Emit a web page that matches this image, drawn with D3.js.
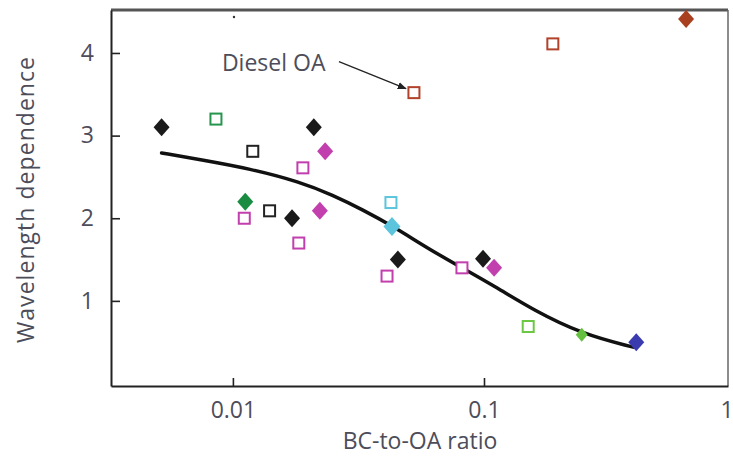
<!DOCTYPE html>
<html>
<head>
<meta charset="utf-8">
<script src="https://cdn.jsdelivr.net/npm/d3@7"></script>
<style>
  body { margin: 0; background: #fff; }
  text { font-family: "Open Sans", sans-serif; fill: #4d4d5a; }
</style>
</head>
<body>
<script>
// BC-to-OA ratio vs wavelength dependence (absorption Angstrom exponent)

var xTicks = [0.01, 0.1, 1];
var xTickLabels = ["0.01", "0.1", "1"];
var yTicks = [1, 2, 3, 4];

// filled diamonds
var blackDiamonds = [[0.0052, 3.1], [0.021, 3.1], [0.0172, 2.0], [0.0454, 1.5], [0.0991, 1.51]];
var magentaDiamonds = [[0.0233, 2.81], [0.0222, 2.09], [0.1097, 1.4]];
var darkGreenDiamonds = [[0.0112, 2.2]];
var cyanDiamonds = [[0.043, 1.9]];
var brownDiamonds = [[0.638, 4.41]];
var lightGreenDiamonds = [[0.245, 0.59]];
var blueDiamonds = [[0.404, 0.5]];

// open squares
var greenSquares = [[0.00856, 3.2]];
var blackSquares = [[0.012, 2.81], [0.014, 2.09]];
var magentaSquares = [[0.019, 2.61], [0.0111, 2.0], [0.0183, 1.7], [0.0411, 1.3], [0.0817, 1.4]];
var cyanSquares = [[0.0426, 2.19]];
var brownSquares = [[0.0526, 3.52], [0.188, 4.11]];
var lightGreenSquares = [[0.15, 0.69]];

// fitted curve
var fitCurve = [
  [0.0052, 2.79], [0.0074, 2.71], [0.0117, 2.6], [0.0185, 2.44], [0.025, 2.28],
  [0.033, 2.1], [0.043, 1.91], [0.0609, 1.62], [0.0817, 1.4],
  [0.1127, 1.16], [0.157, 0.89], [0.245, 0.6], [0.393, 0.44]
];

var diesel = [0.0526, 3.52];

var W = 733, H = 458;
var margin = {left: 111, right: 5, top: 10, bottom: 72};
var width = W - margin.left - margin.right,
    height = H - margin.top - margin.bottom;

var svg = d3.select("body").append("svg")
  .attr("width", W)
  .attr("height", H);

var g = svg.append("g")
  .attr("transform", "translate(" + margin.left + "," + margin.top + ")");

var x = d3.scaleLog().domain([0.00327, 0.937]).range([0, width]);
var y = d3.scaleLinear().domain([-0.03, 4.52]).range([height, 0]);

// frame: top and right in grey, left and bottom black
g.append("line").attr("x1", 0).attr("x2", width).attr("y1", 0).attr("y2", 0)
  .attr("stroke", "#555").attr("stroke-width", 3);
g.append("line").attr("x1", width).attr("x2", width).attr("y1", 0).attr("y2", height)
  .attr("stroke", "#666").attr("stroke-width", 1.5);

var xAxis = d3.axisBottom(x).tickValues(xTicks)
  .tickFormat((d, i) => xTickLabels[i])
  .tickSizeInner(-8).tickSizeOuter(0).tickPadding(16);
var yAxis = d3.axisLeft(y).tickValues(yTicks)
  .tickFormat(d3.format("d"))
  .tickSizeInner(-9).tickSizeOuter(0).tickPadding(17);

var gx = g.append("g").attr("transform", "translate(0," + height + ")").call(xAxis);
var gy = g.append("g").call(yAxis);

[gx, gy].forEach(a => {
  a.select(".domain").attr("stroke", "#222").attr("stroke-width", 2);
  a.selectAll(".tick line").attr("stroke", "#222").attr("stroke-width", 1.6);
  a.selectAll(".tick text")
    .style("font-family", "'Open Sans', sans-serif")
    .style("font-size", "23px")
    .attr("fill", "#4d4d5a");
});
gx.selectAll(".tick text").attr("dy", "0.71em");
// the "1" sits at the very right edge of the picture
gx.selectAll(".tick text").filter(d => d === 1)
  .attr("text-anchor", "end")
  .attr("x", -2);

// axis titles
svg.append("text")
  .attr("x", margin.left + x(0.1) - 64)
  .attr("y", 449)
  .attr("text-anchor", "middle")
  .style("font-size", "23px")
  .text("BC-to-OA ratio");

svg.append("text")
  .attr("transform", "translate(34,200) rotate(-90)")
  .attr("text-anchor", "middle")
  .attr("textLength", 286)
  .attr("lengthAdjust", "spacing")
  .style("font-size", "23px")
  .text("Wavelength dependence");

// stray speck near the top
g.append("circle").attr("cx", x(0.0101)).attr("cy", 7).attr("r", 1.2).attr("fill", "#333");

// fitted line
var line = d3.line()
  .x(d => x(d[0]))
  .y(d => y(d[1]))
  .curve(d3.curveBasis);

g.append("path")
  .datum(fitCurve)
  .attr("d", line)
  .attr("fill", "none")
  .attr("stroke", "#111")
  .attr("stroke-width", 3.5)
  .attr("stroke-linecap", "round");

// series tables
var squareSeries = [
  {data: greenSquares, color: "#25964c"},
  {data: blackSquares, color: "#222"},
  {data: magentaSquares, color: "#c23fae"},
  {data: cyanSquares, color: "#5cc4dc"},
  {data: brownSquares, color: "#b0432a"},
  {data: lightGreenSquares, color: "#6cc844"}
];
var diamondSeries = [
  {data: blackDiamonds, color: "#1a1a1a", r: 8},
  {data: magentaDiamonds, color: "#c23fae", r: 8},
  {data: darkGreenDiamonds, color: "#1a8c42", r: 8},
  {data: cyanDiamonds, color: "#5cc4dc", r: 8.5},
  {data: brownDiamonds, color: "#a8401f", r: 8},
  {data: lightGreenDiamonds, color: "#66c040", r: 6},
  {data: blueDiamonds, color: "#3b3bb0", r: 8}
];

squareSeries.forEach(s => {
  g.selectAll(null)
    .data(s.data)
    .enter()
    .append("rect")
    .attr("x", d => x(d[0]) - 5.5)
    .attr("y", d => y(d[1]) - 5.5)
    .attr("width", 11)
    .attr("height", 11)
    .attr("fill", "#fff")
    .attr("stroke", s.color)
    .attr("stroke-width", 2);
});

diamondSeries.forEach(s => {
  g.selectAll(null)
    .data(s.data)
    .enter()
    .append("path")
    .attr("transform", d => "translate(" + x(d[0]) + "," + y(d[1]) + ")")
    .attr("d", "M0," + (-s.r - 1) + "L" + s.r + ",0L0," + (s.r + 1) + "L" + (-s.r) + ",0Z")
    .attr("fill", s.color);
});

// Diesel OA annotation
svg.append("defs").append("marker")
  .attr("id", "arrow")
  .attr("viewBox", "0 0 10 10")
  .attr("refX", 9).attr("refY", 5)
  .attr("markerWidth", 7).attr("markerHeight", 7)
  .attr("orient", "auto")
  .append("path").attr("d", "M0,1L10,5L0,9Z").attr("fill", "#222");

var dx = x(diesel[0]), dy = y(diesel[1]);
g.append("text")
  .attr("x", dx - 192)
  .attr("y", dy - 22)
  .style("font-size", "23px")
  .text("Diesel OA");

g.append("line")
  .attr("x1", dx - 75).attr("y1", dy - 31)
  .attr("x2", dx - 8).attr("y2", dy - 4)
  .attr("stroke", "#222")
  .attr("stroke-width", 1.3)
  .attr("marker-end", "url(#arrow)");
</script>
</body>
</html>
